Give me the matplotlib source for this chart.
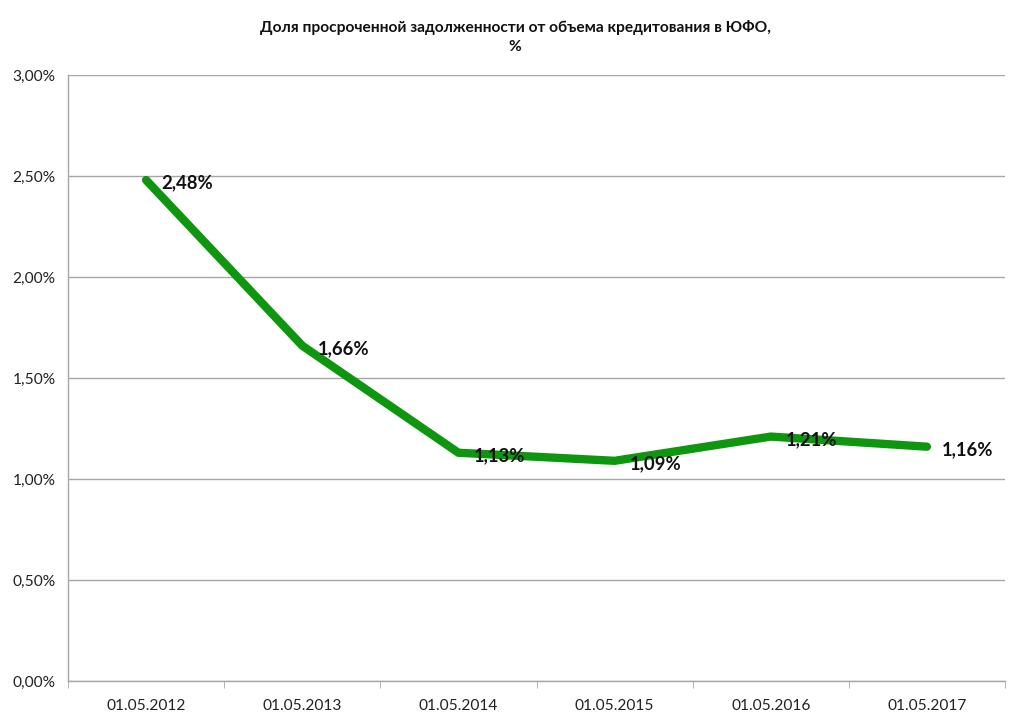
import matplotlib
matplotlib.use("Agg")
import matplotlib.pyplot as plt
from matplotlib.ticker import FuncFormatter, FixedLocator

categories = ["01.05.2012", "01.05.2013", "01.05.2014", "01.05.2015", "01.05.2016", "01.05.2017"]
values = [2.48, 1.66, 1.13, 1.09, 1.21, 1.16]
yticks = [0.0, 0.5, 1.0, 1.5, 2.0, 2.5, 3.0]
title = "Доля просроченной задолженности от объема кредитования в ЮФО,\n%"

font = ["Lato", "DejaVu Sans"]
plt.rcParams['font.family'] = font

fig = plt.figure(figsize=(10.24, 7.24), dpi=100)
ax = fig.add_axes([68/1024, 43/724, (1005-68)/1024, (681-75)/724])

x = list(range(len(categories)))
ax.plot(x, values, color="#0f960f", lw=6, solid_capstyle="round", solid_joinstyle="round", zorder=3)

for xi, v in zip(x, values):
    ax.annotate(f"{v:.2f}%".replace(".", ","), (xi, v), xytext=(11, -2), textcoords="offset points",
                ha="left", va="center", fontsize=13.3, fontweight="bold", color="#111111", zorder=4)

ax.set_xlim(-0.5, len(categories) - 0.5)
ax.set_ylim(0, 3.0)
ax.set_yticks(yticks)
ax.yaxis.set_major_formatter(FuncFormatter(lambda v, p: f"{v:.2f}%".replace(".", ",")))
ax.grid(axis="y", color="#a6a6a6", lw=1)
ax.set_axisbelow(True)

ax.set_xticks(x)
ax.set_xticklabels(categories)
ax.xaxis.set_minor_locator(FixedLocator([i - 0.5 for i in range(len(categories) + 1)]))
ax.tick_params(axis="x", which="major", length=0, pad=13, labelsize=11.2, colors="#222222")
ax.tick_params(axis="x", which="minor", length=5, color="#a6a6a6", direction="out")
ax.tick_params(axis="y", length=0, pad=9, labelsize=11.2, colors="#222222")

for s in ["top", "right"]:
    ax.spines[s].set_visible(False)
for s in ["left", "bottom"]:
    ax.spines[s].set_color("#a6a6a6")
    ax.spines[s].set_linewidth(1)

fig.text(515/1024, 1 - 37/724, title, ha="center", va="center", fontsize=11.2, fontweight="bold",
         color="#111111", linespacing=1.5)

fig.savefig("out.png", dpi=100, facecolor="white")
